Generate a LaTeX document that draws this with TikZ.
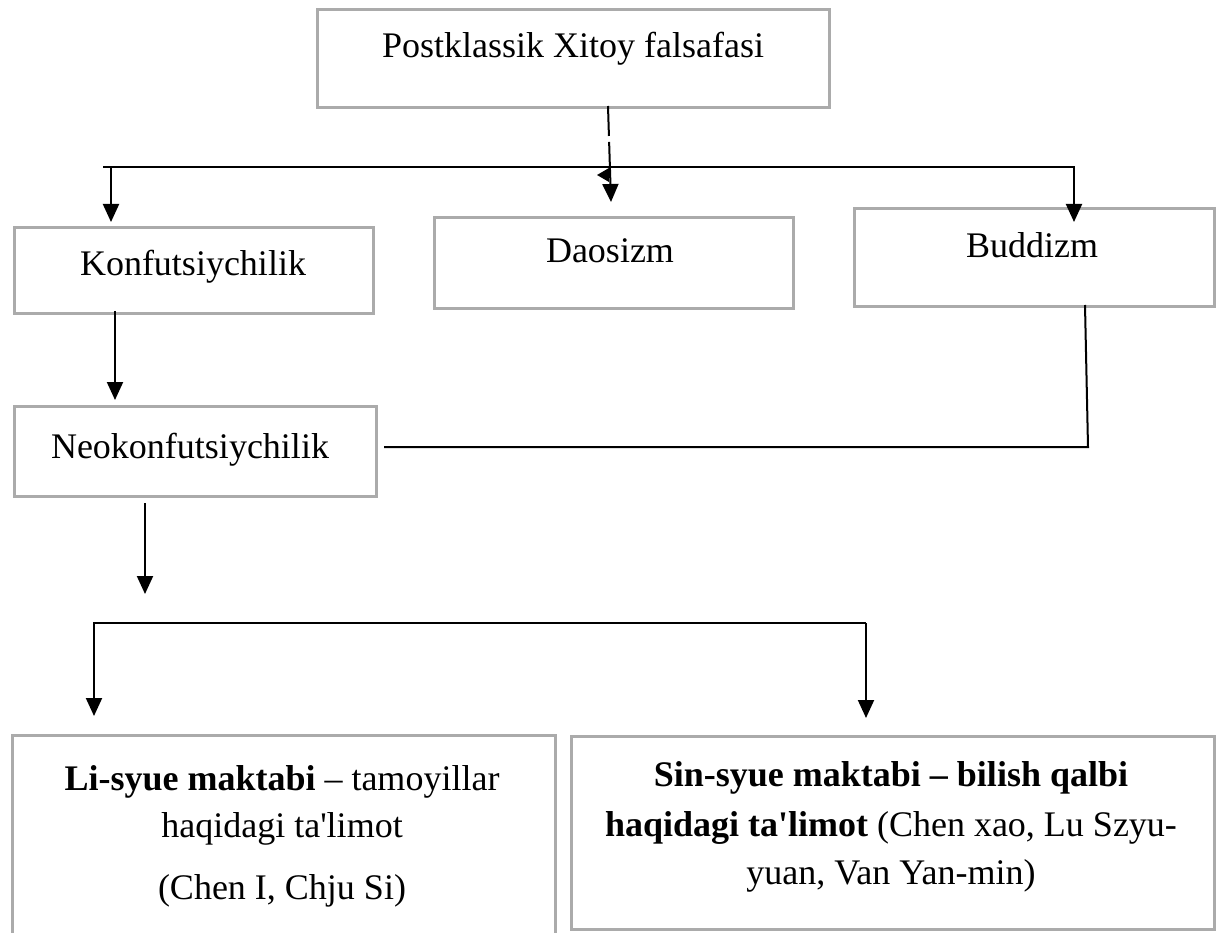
\documentclass[tikz,border=0pt]{standalone}
\usepackage{fontspec}
\setmainfont{Liberation Serif}
\usetikzlibrary{arrows.meta}
\tikzset{
  box/.style={draw=black!33, line width=3pt, inner sep=0pt, anchor=north west},
  txt/.style={inner sep=0pt, anchor=base, font=\fontsize{36}{44}\selectfont},
  conn/.style={line width=2pt, black},
  arr/.style={conn, -{Triangle[length=18pt, width=16pt]}},
}
\newcommand{\apos}{\textquotesingle}
\begin{document}
\begin{tikzpicture}[x=1pt, y=-1pt]
\useasboundingbox (0,0) rectangle (1221,933);
% boxes
\node[box, minimum width=512, minimum height=98] (top) at (316,8) {};
\node[txt] (toptxt) at (573,58) {Postklassik Xitoy falsafasi};
\node[box, minimum width=359, minimum height=86] (konf) at (13,226) {};
\node[txt] (konftxt) at (193,276) {Konfutsiychilik};
\node[box, minimum width=359, minimum height=91] (dao) at (433,216) {};
\node[txt] (daotxt) at (610,263) {Daosizm};
\node[box, minimum width=360, minimum height=98] (bud) at (853,207) {};
\node[txt] (budtxt) at (1032,258) {Buddizm};
\node[box, minimum width=362, minimum height=90] (neo) at (13,405) {};
\node[txt] (neotxt) at (190,458) {Neokonfutsiychilik};
\node[box, minimum width=543, minimum height=215] (li) at (11,734) {};
\node[txt] (lit1) at (282,790) {\textbf{Li-syue maktabi} -- tamoyillar};
\node[txt] (lit2) at (282,837) {haqidagi ta\apos limot};
\node[txt] (lit3) at (282,899) {(Chen I, Chju Si)};
\node[box, minimum width=643, minimum height=193] (sin) at (570,735) {};
\node[txt] (sint1) at (891,786) {\textbf{Sin-syue maktabi -- bilish qalbi}};
\node[txt] (sint2) at (891,836) {\textbf{haqidagi ta\apos limot} (Chen xao, Lu Szyu-};
\node[txt] (sint3) at (891,884) {yuan, Van Yan-min)};
% coordinates
\coordinate (h1l) at (103,167);
\coordinate (h1r) at (1075,167);
\coordinate (k1) at (111,167);
\coordinate (k2) at (111,222);
\coordinate (b1) at (1074,167);
\coordinate (b2) at (1074,222);
\coordinate (d1) at (608,106);
\coordinate (d2) at (611,202);
\coordinate (n1) at (115,311);
\coordinate (n2) at (115,400);
\coordinate (bu1) at (1085,305);
\coordinate (bu2) at (1088,447);
\coordinate (bu3) at (384,447);
\coordinate (m1) at (145,503);
\coordinate (m2) at (145,594);
\coordinate (h2l) at (93,623);
\coordinate (h2r) at (866,623);
\coordinate (l1) at (94,623);
\coordinate (l2) at (94,716);
\coordinate (s1) at (866,623);
\coordinate (s2) at (866,718);
% connectors
\draw[conn] (h1l) -- (h1r);
\draw[arr] (k1) -- (k2);
\draw[arr] (b1) -- (b2);
\draw[arr, dash pattern=on 30pt off 6pt on 100pt] (d1) -- (d2);
\fill (597,175) -- (609,168) -- (609,182) -- cycle;
\draw[arr] (n1) -- (n2);
\draw[conn] (bu1) -- (bu2) -- (bu3);
\draw[arr] (m1) -- (m2);
\draw[conn] (h2l) -- (h2r);
\draw[arr] (l1) -- (l2);
\draw[arr] (s1) -- (s2);
\end{tikzpicture}
\end{document}
